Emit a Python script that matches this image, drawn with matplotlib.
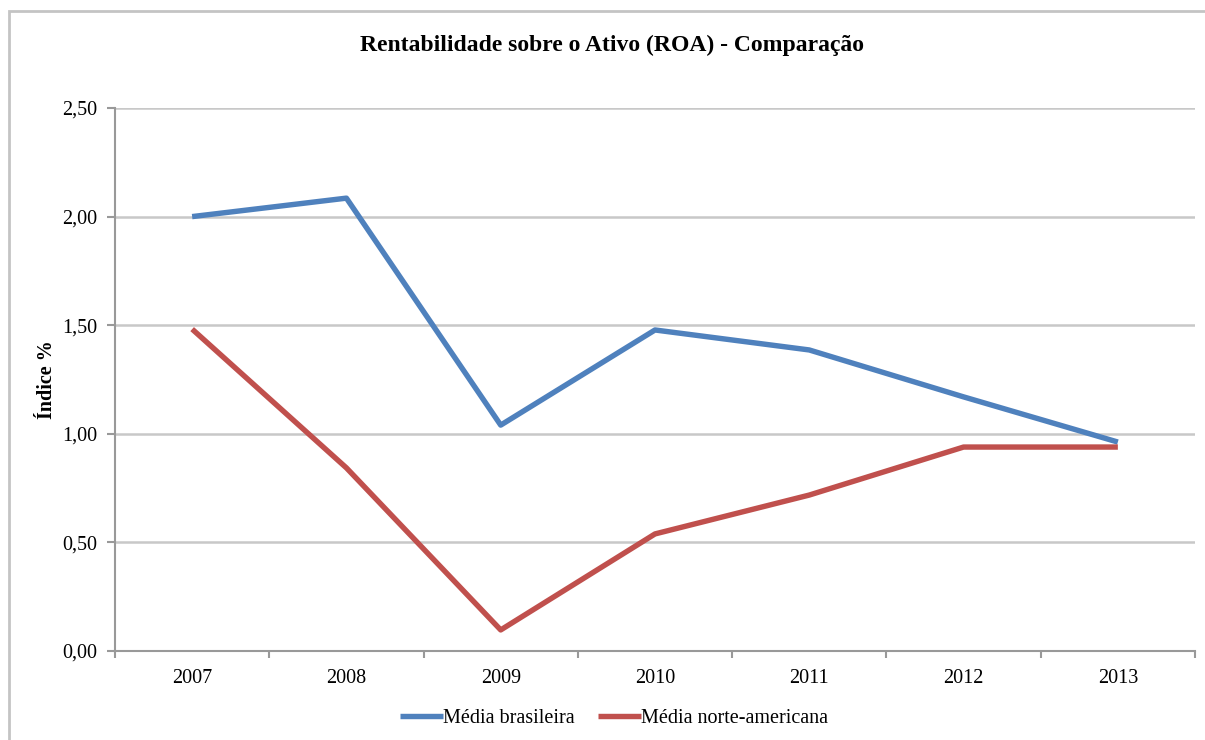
import matplotlib.pyplot as plt
from matplotlib.patches import Rectangle

anos = ['2007', '2008', '2009', '2010', '2011', '2012', '2013']
media_brasileira = [2.00, 2.085, 1.04, 1.478, 1.386, 1.17, 0.962]
media_norte_americana = [1.482, 0.843, 0.097, 0.539, 0.718, 0.939, 0.939]
y_ticks = [0.0, 0.5, 1.0, 1.5, 2.0, 2.5]

plt.rcParams['font.family'] = ['Liberation Serif', 'DejaVu Serif']

fig = plt.figure(figsize=(12.05, 7.4), dpi=100)
ax = fig.add_axes([115 / 1205, 1 - 651 / 740, 1080 / 1205, 543 / 740])

# outer frame of the chart (right and bottom edges fall outside the image)
fig.patches.append(Rectangle((9 / 1205, -0.05), 1.1, 1.05 - 11 / 740,
                             transform=fig.transFigure, fill=False,
                             edgecolor='#C4C4C4', linewidth=2))

x = range(len(anos))
ax.plot(x, media_brasileira, color='#4F81BD', linewidth=3.9,
        label='Média brasileira', solid_capstyle='butt')
ax.plot(x, media_norte_americana, color='#C0504D', linewidth=3.9,
        label='Média norte-americana', solid_capstyle='butt')

ax.set_xlim(-0.5, len(anos) - 0.5)
ax.set_ylim(0, 2.5)
ax.set_yticks(y_ticks)
ax.set_yticklabels([f'{v:.2f}'.replace('.', ',') for v in y_ticks], fontsize=14.5)
ax.set_xticks([i - 0.5 for i in range(len(anos) + 1)])
ax.set_xticklabels([])
ax.set_xticks(list(x), minor=True)
ax.set_xticklabels(anos, minor=True, fontsize=14.5)
ax.tick_params(axis='x', which='minor', length=0, pad=13)
ax.tick_params(axis='x', which='major', length=5, color='#999999', width=1.5)
ax.tick_params(axis='y', length=6, color='#999999', width=1.5, pad=7)

ax.grid(axis='y', color='#C8C8C8', linewidth=1.8)
ax.set_axisbelow(True)
for s in ['top', 'right']:
    ax.spines[s].set_visible(False)
for s in ['left', 'bottom']:
    ax.spines[s].set_color('#999999')
    ax.spines[s].set_linewidth(1.5)

ax.set_ylabel('Índice %', fontsize=14.5, fontweight='bold')
ax.yaxis.set_label_coords(-58 / 1080, 0.5)
fig.text(612 / 1205, 1 - 45 / 740, 'Rentabilidade sobre o Ativo (ROA) - Comparação',
         ha='center', va='center', fontsize=17, fontweight='bold')

fig.legend(loc='center', bbox_to_anchor=(614 / 1205, 1 - 718 / 740), ncol=2,
           frameon=False, fontsize=14.5, handlelength=2.1, handletextpad=0.0,
           columnspacing=1.2)

fig.savefig('out.png', dpi=100)
